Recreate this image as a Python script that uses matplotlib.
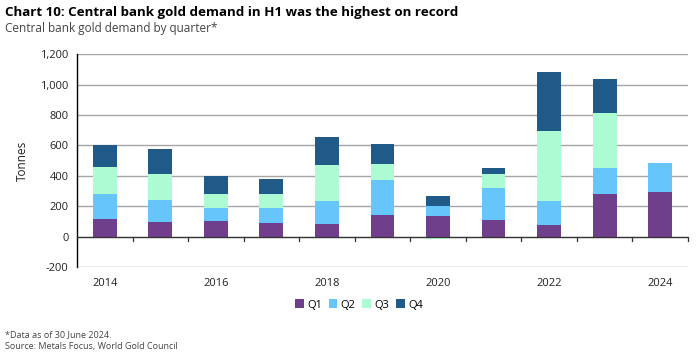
import matplotlib.pyplot as plt
import numpy as np

plt.rcParams["font.family"] = ["Open Sans", "DejaVu Sans"]

years = [2014, 2015, 2016, 2017, 2018, 2019, 2020, 2021, 2022, 2023, 2024]
q1 = [114, 96, 105, 90, 81, 142, 138, 110, 74, 280, 296]
q2 = [166, 143, 85, 96, 153, 230, 63, 212, 160, 173, 188]
q3 = [178, 171, 88, 92, 237, 108, -15, 88, 462, 362, 0]
q4 = [142, 168, 118, 103, 186, 127, 68, 43, 386, 219, 0]

series = [("Q1", q1, "#6f3f8c"), ("Q2", q2, "#66c5fb"),
          ("Q3", q3, "#acfbd3"), ("Q4", q4, "#1f5a89")]

fig = plt.figure(figsize=(6.97, 3.61), dpi=100)
ax = fig.add_axes([0.1105, 0.2604, 0.8765, 0.5896])

x = np.arange(len(years))
pos_base = np.zeros(len(years))
neg_base = np.zeros(len(years))
for name, vals, col in series:
    v = np.array(vals, dtype=float)
    bottom = np.where(v >= 0, pos_base, neg_base)
    ax.bar(x, v, width=0.43, bottom=bottom, color=col, label=name, zorder=3)
    pos_base += np.where(v >= 0, v, 0)
    neg_base += np.where(v < 0, v, 0)

ax.set_xlim(-0.5, len(years) - 0.5)
ax.set_ylim(-200, 1200)
ax.set_yticks(range(-200, 1201, 200))
ax.set_yticklabels([f"{t:,}" for t in range(-200, 1201, 200)])
ax.tick_params(axis="y", length=0, labelsize=8, colors="#222222", pad=6)
ax.yaxis.grid(True, color="#a6a6a6", linewidth=1, zorder=0)
ax.set_ylabel("Tonnes", fontsize=8.5, color="#222222", labelpad=8)

for s in ["top", "right", "bottom"]:
    ax.spines[s].set_visible(False)
ax.spines["left"].set_color("black")
ax.spines["left"].set_linewidth(1)

# zero line with tick marks between categories
ax.axhline(0, color="#333333", linewidth=0.9, zorder=4)
for b in np.arange(0.5, len(years) + 0.5, 1.0):
    ax.plot([b, b], [0, -26], color="#333333", linewidth=0.9, zorder=4, clip_on=False)

ax.set_xticks(x[::2])
ax.set_xticklabels([str(y) for y in years[::2]])
ax.tick_params(axis="x", length=0, labelsize=8, colors="#222222", pad=8)

handles, labels = ax.get_legend_handles_labels()
fig.legend(handles, labels, loc="center", bbox_to_anchor=(0.515, 0.155), ncol=4,
           frameon=False, fontsize=8, handlelength=0.8, handleheight=0.8,
           handletextpad=0.3, columnspacing=0.6)

fig.text(0.007, 0.965, "Chart 10: Central bank gold demand in H1 was the highest on record",
         fontsize=9.6, fontweight="bold", color="black", va="center")
fig.text(0.007, 0.922, "Central bank gold demand by quarter*",
         fontsize=8.5, color="#444444", va="center")
fig.text(0.007, 0.072, "*Data as of 30 June 2024.", fontsize=6.5, color="#444444", va="center")
fig.text(0.007, 0.040, "Source: Metals Focus, World Gold Council", fontsize=6.5,
         color="#444444", va="center")

fig.savefig("out.png", dpi=100)
